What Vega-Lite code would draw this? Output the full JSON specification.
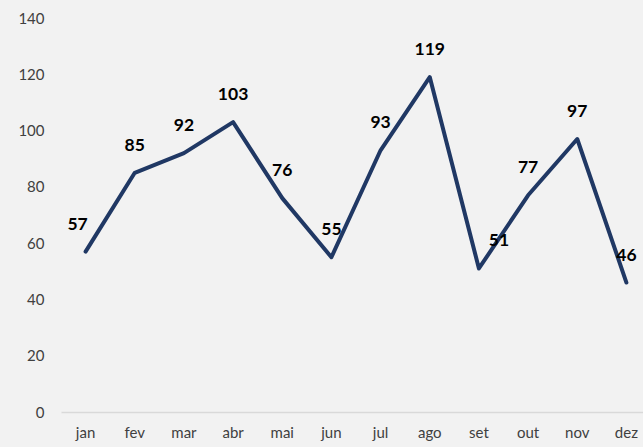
{
  "$schema": "https://vega.github.io/schema/vega-lite/v6.json",
  "autosize": "none",
  "width": 590,
  "height": 394,
  "padding": {"left": 61, "top": 18, "right": 0, "bottom": 35},
  "background": "#f2f2f2",
  "config": {"view": {"stroke": null}, "font": "Lato"},
  "data": {"values": [
    {"mes": "jan", "valor": 57},
    {"mes": "fev", "valor": 85},
    {"mes": "mar", "valor": 92},
    {"mes": "abr", "valor": 103},
    {"mes": "mai", "valor": 76},
    {"mes": "jun", "valor": 55},
    {"mes": "jul", "valor": 93},
    {"mes": "ago", "valor": 119},
    {"mes": "set", "valor": 51},
    {"mes": "out", "valor": 77},
    {"mes": "nov", "valor": 97},
    {"mes": "dez", "valor": 46}
  ]},
  "encoding": {
    "x": {"field": "mes", "type": "ordinal", "sort": null,
      "scale": {"type": "band", "paddingInner": 0, "paddingOuter": 0},
      "axis": {"title": null, "labelAngle": 0, "ticks": false, "domainColor": "#d9d9d9", "domainWidth": 1.5,
        "labelColor": "#404040", "labelFontSize": 15, "labelPadding": 13, "labelFont": "Lato"}},
    "y": {"field": "valor", "type": "quantitative",
      "scale": {"domain": [0, 140]},
      "axis": {"title": null, "values": [0,20,40,60,80,100,120,140], "grid": false, "domain": false, "ticks": false,
        "labelColor": "#404040", "labelFontSize": 15, "labelPadding": 17, "labelFont": "Lato"}}
  },
  "layer": [
    {"mark": {"type": "line", "color": "#203864", "strokeWidth": 4, "strokeCap": "round", "strokeJoin": "round"}},
    {"transform": [{"filter": "datum.mes !== 'jan' && datum.mes !== 'set'"}],
     "mark": {"type": "text", "fontWeight": "bold", "fontSize": 17.5, "dy": -27, "color": "#000000"},
     "encoding": {"text": {"field": "valor"}}},
    {"transform": [{"filter": "datum.mes === 'jan'"}],
     "mark": {"type": "text", "fontWeight": "bold", "fontSize": 17.5, "dy": -27, "dx": -8, "color": "#000000"},
     "encoding": {"text": {"field": "valor"}}},
    {"transform": [{"filter": "datum.mes === 'set'"}],
     "mark": {"type": "text", "fontWeight": "bold", "fontSize": 17.5, "dy": -27, "dx": 20, "color": "#000000"},
     "encoding": {"text": {"field": "valor"}}}
  ]
}
